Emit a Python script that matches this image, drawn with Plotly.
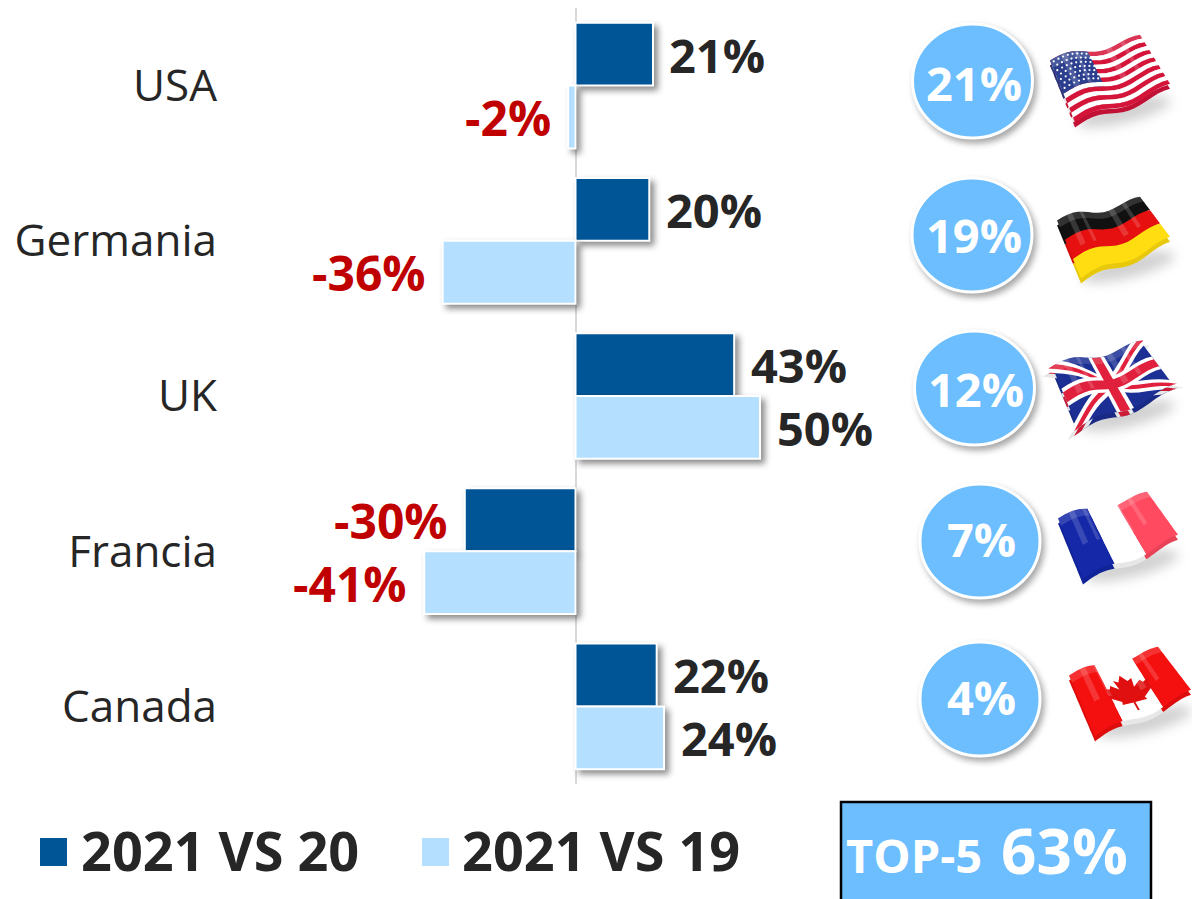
import base64, math
import plotly.graph_objects as go

W, H = 1192, 899
FONT = "Open Sans"
categories = ["USA", "Germania", "UK", "Francia", "Canada"]
vs_2020 = [21, 20, 43, -30, 22]
vs_2019 = [-2, -36, 50, -41, 24]
share_values = [21, 19, 12, 7, 4]
legend_names = ["2021 VS 20", "2021 VS 19"]
top5_label = "TOP-5"
top5_value = 63
DARK, LIGHT, CIRCLE = "#005596", "#B5DFFF", "#6CBEFF"
INK, NEG = "#262626", "#C00000"


def px_x(x): return x / W
def px_y(y): return 1 - y / H


# ---------- decorative 3D flags, rendered as SVG illustrations ----------
def mapper(c, amp, phase):
    tl, tr, br, bl = c
    def f(u, v):
        x = (1-u)*(1-v)*tl[0] + u*(1-v)*tr[0] + u*v*br[0] + (1-u)*v*bl[0]
        y = (1-u)*(1-v)*tl[1] + u*(1-v)*tr[1] + u*v*br[1] + (1-u)*v*bl[1]
        return x, y + amp * math.sin(2*math.pi*1.33*u + phase)
    return f


def poly(f, pts, color, extra=""):
    out = []
    for i, (a, b) in enumerate(pts):
        c, d = pts[(i+1) % len(pts)]
        for k in range(16):
            t = k/16
            out.append("%.1f,%.1f" % f(a+(c-a)*t, b+(d-b)*t))
    return f'<polygon points="{" ".join(out)}" fill="{color}" {extra}/>'


def rect(f, u0, v0, u1, v1, color, extra=""):
    return poly(f, [(u0, v0), (u1, v0), (u1, v1), (u0, v1)], color, extra)


def usa(f):
    s = ""
    for i in range(13):
        s += rect(f, 0, i/13, 1, (i+1)/13, "#D5143A" if i % 2 == 0 else "#FFFFFF")
    s += rect(f, 0, 0, .42, 7/13, "#2B3F8E")
    for r in range(7):
        for q in range(8):
            x, y = f(.03+q*.052+(r % 2)*.02, .04+r*.072)
            s += f'<circle cx="{x:.1f}" cy="{y:.1f}" r="1.1" fill="#fff"/>'
    return s


def germany(f):
    return rect(f, 0, 0, 1, 1/3, "#111111") + rect(f, 0, 1/3, 1, 2/3, "#E5100F") + rect(f, 0, 2/3, 1, 1, "#FFDD10")


def uk(f):
    s = rect(f, 0, 0, 1, 1, "#1C2F94")
    def diag(a, b, c, d, w, col):
        return poly(f, [(a-w, b), (a+w, b), (c+w, d), (c-w, d)], col)
    s += diag(0, 0, 1, 1, .11, "#FFFFFF") + diag(1, 0, 0, 1, .11, "#FFFFFF")
    s += diag(0, 0, 1, 1, .04, "#E0203C") + diag(1, 0, 0, 1, .04, "#E0203C")
    s += rect(f, .41, 0, .59, 1, "#FFFFFF") + rect(f, 0, .36, 1, .64, "#FFFFFF")
    s += rect(f, .45, 0, .55, 1, "#E0203C") + rect(f, 0, .42, 1, .58, "#E0203C")
    return s


def france(f):
    return rect(f, 0, 0, 1/3, 1, "#1428A8") + rect(f, 1/3, 0, 2/3, 1, "#FFFFFF") + rect(f, 2/3, 0, 1, 1, "#FF4A60")


def canada(f):
    s = rect(f, 0, 0, .29, 1, "#F51010") + rect(f, .29, 0, .71, 1, "#FFFFFF") + rect(f, .71, 0, 1, 1, "#F51010")
    leaf = [(.5, .2), (.55, .32), (.6, .29), (.58, .45), (.66, .38), (.68, .44), (.74, .42), (.71, .55),
            (.74, .58), (.62, .68), (.63, .73), (.51, .71), (.51, .86), (.49, .86), (.49, .71), (.37, .73),
            (.38, .68), (.26, .58), (.29, .55), (.26, .42), (.32, .44), (.34, .38), (.42, .45), (.4, .29), (.45, .32)]
    pts = " ".join("%.1f,%.1f" % f(a, b) for a, b in leaf)
    return s + f'<polygon points="{pts}" fill="#E01010"/>'


flags = [
    (usa, [(1050, 60), (1140, 38), (1170, 87), (1075, 122)], 3.5, 3.04),
    (germany, [(1057, 220), (1140, 200), (1170, 240), (1081, 278)], 3.5, 3.04),
    (uk, [(1052, 366), (1140, 344), (1173, 388), (1078, 428)], 3.5, 3.04),
    (france, [(1058, 518), (1147, 495), (1178, 538), (1083, 579)], 3.5, 3.04),
    (canada, [(1069, 675), (1158, 650), (1191, 693), (1095, 736)], 3.5, 3.04),
]


def flag_image(draw, c, amp, phase):
    x0, y0 = min(p[0] for p in c) - 30, min(p[1] for p in c) - 15
    x1, y1 = max(p[0] for p in c) + 30, max(p[1] for p in c) + 40
    f = mapper(c, amp, phase)
    art = draw(f)
    gloss = ""
    for u0, u1 in ((.12, .18), (.27, .31), (.62, .68), (.78, .82)):
        gloss += rect(f, u0, 0, u1, .55, "#FFFFFF", 'fill-opacity="0.16"')
    gloss += rect(f, 0, 0, 1, .12, "#FFFFFF", 'fill-opacity="0.14"')
    cx, cy = (c[2][0]+c[3][0])/2, (c[2][1]+c[3][1])/2
    svg = f'''<svg xmlns="http://www.w3.org/2000/svg" width="{x1-x0}" height="{y1-y0}" viewBox="{x0} {y0} {x1-x0} {y1-y0}">
<defs><filter id="b" x="-30%" y="-60%" width="160%" height="220%"><feGaussianBlur stdDeviation="6"/></filter>
<filter id="d"><feColorMatrix type="matrix" values=".8 0 0 0 0 0 .8 0 0 0 0 0 .8 0 0 0 0 0 1 0"/></filter></defs>
<ellipse cx="{cx:.0f}" cy="{cy+8:.0f}" rx="48" ry="11" fill="#000" fill-opacity="0.18" filter="url(#b)" transform="rotate(-14 {cx:.0f} {cy:.0f})"/>
<g transform="translate(0,5)" filter="url(#d)">{art}</g>{art}{gloss}</svg>'''
    return "data:image/svg+xml;base64," + base64.b64encode(svg.encode()).decode(), x0, y0, x1-x0, y1-y0


images = []
for draw, c, amp, phase in flags:
    src, x, y, w, h = flag_image(draw, c, amp, phase)
    images.append(dict(source=src, xref="paper", yref="paper", x=px_x(x), y=px_y(y),
                       sizex=w/W, sizey=h/H, xanchor="left", yanchor="top", sizing="stretch", layer="above"))

# ---------- chart ----------
L_PX, R_PX, ZERO_PX, SCALE = 226, 880, 575.5, 3.69
fig = go.Figure()
for name, vals, col in ((legend_names[0], vs_2020, DARK), (legend_names[1], vs_2019, LIGHT)):
    fig.add_bar(name=name, y=categories, x=vals, orientation="h", marker=dict(color=col, line=dict(color="#FFFFFF", width=2)),
                showlegend=False)

ann = []
for vals, ysh in ((vs_2020, 31), (vs_2019, -32)):
    for cat, v in zip(categories, vals):
        ann.append(dict(x=v, y=cat, xref="x", yref="y", yshift=ysh, xshift=14.5 if v > 0 else -15,
                        xanchor="left" if v > 0 else "right", text=f"{v}%", showarrow=False,
                        font=dict(family=FONT, size=47 if v > 0 else 48, color=INK if v > 0 else NEG, weight=700)))

circles = [(972.5, 81), (972, 235), (974.5, 388), (980, 541), (980, 699)]
label_dy = [1, -1, 0, -3, -3]
shapes = []
for (cx, cy), share, dy in zip(circles, share_values, label_dy):
    shapes.append(dict(type="circle", xref="paper", yref="paper", x0=px_x(cx-60), x1=px_x(cx+60),
                       y0=px_y(cy+57), y1=px_y(cy-57), fillcolor=CIRCLE, line=dict(color="#FFFFFF", width=3)))
    ann.append(dict(xref="paper", yref="paper", x=px_x(cx+1.5), y=px_y(cy+1+dy), text=f"{share}%", showarrow=False,
                    xanchor="center", yanchor="middle", font=dict(family=FONT, size=47, color="#FFFFFF", weight=700)))

# legend
for name, col, sq, tx in ((legend_names[0], DARK, 40, 79), (legend_names[1], LIGHT, 422, 460)):
    shapes.append(dict(type="rect", xref="paper", yref="paper", x0=px_x(sq), x1=px_x(sq+27), y0=px_y(866), y1=px_y(838),
                       fillcolor=col, line=dict(width=0)))
    ann.append(dict(xref="paper", yref="paper", x=px_x(tx), y=px_y(850), text=name, showarrow=False, xanchor="left",
                    yanchor="middle", font=dict(family=FONT, size=54, color=INK, weight=700)))

# TOP-5 box
shapes.append(dict(type="rect", xref="paper", yref="paper", x0=px_x(841), x1=px_x(1151), y0=px_y(925), y1=px_y(802),
                   fillcolor=CIRCLE, line=dict(color="#000000", width=2.5)))
ann.append(dict(xref="paper", yref="paper", x=px_x(844), y=px_y(855), text=top5_label, showarrow=False, xanchor="left",
                yanchor="middle", font=dict(family=FONT, size=47, color="#FFFFFF", weight=700)))
ann.append(dict(xref="paper", yref="paper", x=px_x(999), y=px_y(850), text=f"{top5_value}%", showarrow=False, xanchor="left",
                yanchor="middle", font=dict(family=FONT, size=62, color="#FFFFFF", weight=700)))

fig.update_layout(
    width=W, height=H, margin=dict(l=0, r=0, t=0, b=0), paper_bgcolor="#FFFFFF", plot_bgcolor="#FFFFFF",
    barmode="group", bargap=0.19, bargroupgap=0, font=dict(family=FONT), shapes=shapes, annotations=ann, images=images,
    xaxis=dict(domain=[px_x(L_PX), px_x(R_PX)], range=[(L_PX-ZERO_PX)/SCALE, (R_PX-ZERO_PX)/SCALE], showgrid=False,
               showticklabels=False, ticks="", zeroline=True, zerolinecolor="#D9D9D9", zerolinewidth=2, showline=False),
    yaxis=dict(domain=[1-784/H, 1-8/H], type="category", categoryorder="array", categoryarray=categories, range=[4.5, -0.5],
               showgrid=False, showline=False, zeroline=False, ticks="", ticklabelstandoff=8,
               tickfont=dict(family=FONT, size=44, color=INK), automargin=False),
)

post = """
document.body.style.margin='0';document.body.style.overflow='hidden';
var gd=document.getElementById('{plot_id}');
gd.querySelectorAll('.bars .point path').forEach(function(p){p.style.filter='drop-shadow(4px 4px 3px rgba(0,0,0,.45))';});
gd.querySelectorAll('.shapelayer path').forEach(function(p){
  if((p.style.stroke||'').indexOf('255, 255, 255')>=0){p.style.filter='drop-shadow(3px 4px 3px rgba(0,0,0,.35))';}
});
"""
fig.write_html("out.html", post_script=post, config=dict(displayModeBar=False))
